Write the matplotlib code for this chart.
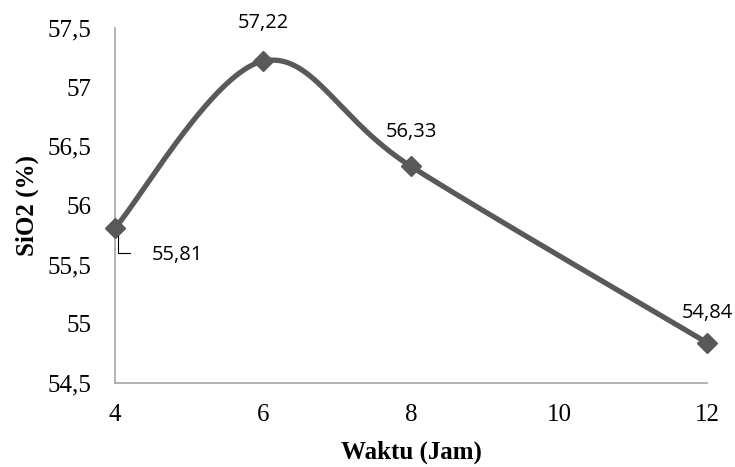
import matplotlib.pyplot as plt
import matplotlib.transforms as mtransforms
import numpy as np

# SiO2 content against reaction time
waktu = [4, 6, 8, 12]
sio2 = [55.81, 57.22, 56.33, 54.84]
label_teks = ["55,81", "57,22", "56,33", "54,84"]
y_ticks = [54.5, 55, 55.5, 56, 56.5, 57, 57.5]
x_ticks = [4, 6, 8, 10, 12]


def smooth_curve(x, y, n=60):
    # cubic Bezier segments with Catmull-Rom style control points
    p = np.column_stack([x, y]).astype(float)
    pts = []
    for i in range(len(p) - 1):
        p0 = p[i - 1] if i > 0 else p[i]
        p1, p2 = p[i], p[i + 1]
        p3 = p[i + 2] if i + 2 < len(p) else p[i + 1]
        c1 = p1 + (p2 - p0) / 6
        c2 = p2 - (p3 - p1) / 6
        t = np.linspace(0, 1, n)[:, None]
        seg = ((1 - t) ** 3) * p1 + 3 * ((1 - t) ** 2) * t * c1 + 3 * (1 - t) * t ** 2 * c2 + t ** 3 * p2
        pts.append(seg)
    pts = np.vstack(pts)
    return pts[:, 0], pts[:, 1]


fig = plt.figure(figsize=(7.35, 4.67), dpi=100)
ax = fig.add_axes([0.1565, 0.180, 0.8055, 0.760])

sx, sy = smooth_curve(waktu, sio2)
ax.plot(sx, sy, color='#595959', lw=3.8, solid_capstyle='round', zorder=3)
ax.plot(waktu, sio2, linestyle='none', marker='D', markersize=10,
        color='#595959', zorder=4, clip_on=False)

ax.set_xlim(4, 12)
ax.set_ylim(54.5, 57.5)
ax.set_xticks(x_ticks)
ax.set_yticks(y_ticks)
ax.set_xticklabels([str(v) for v in x_ticks])
ax.set_yticklabels([('%g' % v).replace('.', ',') for v in y_ticks])
ax.tick_params(axis='x', length=0, labelsize=18, pad=15)
ax.tick_params(axis='y', length=0, labelsize=18, pad=17)
for lbl in ax.get_xticklabels() + ax.get_yticklabels():
    lbl.set_fontfamily('Liberation Serif')

for s in ['top', 'right']:
    ax.spines[s].set_visible(False)
for s in ['left', 'bottom']:
    ax.spines[s].set_color('#a6a6a6')
    ax.spines[s].set_linewidth(1.2)

ax.set_xlabel('Waktu (Jam)', family='Liberation Serif', fontweight='bold', fontsize=18, labelpad=11)
ax.set_ylabel('SiO2 (%)', family='Liberation Serif', fontweight='bold', fontsize=18, labelpad=6)

# data labels
lab_font = dict(family='Open Sans', fontsize=14.5, color='black')

# first label sits below-right with an elbow leader line
px = 72 / fig.dpi
pt = ax.transData.transform((waktu[0], sio2[0]))
lead = ax.transData.inverted().transform([pt + (3, -8), pt + (3, -25), pt + (15, -25)])
ax.plot(lead[:, 0], lead[:, 1], color='black', lw=0.8, clip_on=False, zorder=5)
tr = mtransforms.offset_copy(ax.transData, fig=fig, x=37 * px, y=-27 * px, units='points')
ax.text(waktu[0], sio2[0], label_teks[0], transform=tr, ha='left', va='center', **lab_font)

for i, dy in [(1, 38), (2, 34), (3, 30)]:
    tr = mtransforms.offset_copy(ax.transData, fig=fig, x=0, y=dy * px, units='points')
    ax.text(waktu[i], sio2[i], label_teks[i], transform=tr, ha='center', va='center', **lab_font)

fig.savefig('out.png', dpi=100)
